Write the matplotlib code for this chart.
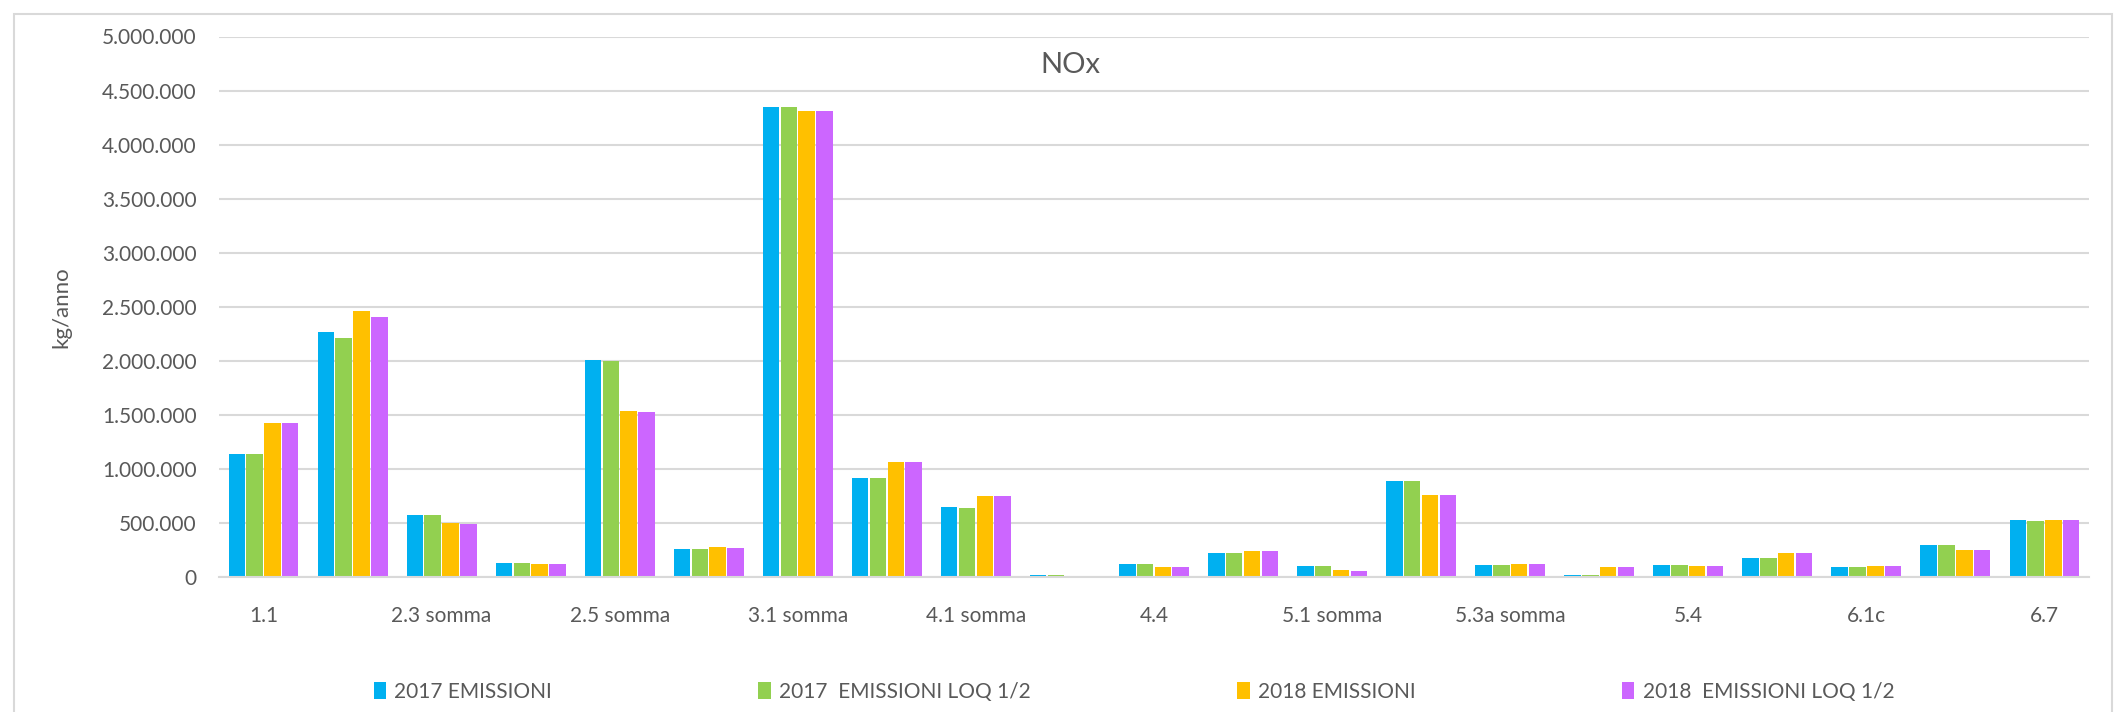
import matplotlib.pyplot as plt
import matplotlib.patches as patches
from matplotlib.ticker import FuncFormatter, MultipleLocator
import numpy as np

plt.rcParams['font.family'] = ['Lato', 'DejaVu Sans']

# categories (only every other one is labelled in the chart)
categories = ["1.1", "2.1", "2.3 somma", "2.4", "2.5 somma", "2.6", "3.1 somma",
              "3.2", "4.1 somma", "4.2", "4.4", "4.5", "5.1 somma", "5.2",
              "5.3a somma", "5.3b", "5.4", "6.1b", "6.1c", "6.4", "6.7"]

em_2017 = [1134000, 2268000, 578000, 132000, 2008000, 260000, 4345000,
           918000, 644000, 18000, 121000, 223000, 102000, 889000,
           113000, 22000, 113000, 179000, 88000, 300000, 530000]
loq_2017 = [1134000, 2213000, 574000, 132000, 2001000, 256000, 4345000,
            918000, 640000, 18000, 121000, 223000, 102000, 889000,
            113000, 22000, 113000, 176000, 88000, 300000, 519000]
em_2018 = [1427000, 2465000, 501000, 121000, 1536000, 274000, 4312000,
           1064000, 753000, 0, 88000, 245000, 62000, 757000,
           124000, 95000, 99000, 219000, 106000, 252000, 530000]
loq_2018 = [1427000, 2407000, 494000, 121000, 1529000, 271000, 4312000,
            1064000, 750000, 0, 88000, 245000, 59000, 757000,
            124000, 95000, 99000, 219000, 106000, 252000, 530000]

series = ["2017 EMISSIONI", "2017  EMISSIONI LOQ 1/2", "2018 EMISSIONI", "2018  EMISSIONI LOQ 1/2"]
colors = ["#00B0F0", "#92D050", "#FFC000", "#CC66FF"]

W, H = 2120, 712
fig = plt.figure(figsize=(W / 100, H / 100), dpi=100)
ax = fig.add_axes([219 / W, 1 - 577 / H, (2089 - 219) / W, (577 - 36.5) / H])

x = np.arange(len(categories))
step = 0.2
bw = 0.185
for i, (vals, name, c) in enumerate(zip([em_2017, loq_2017, em_2018, loq_2018], series, colors)):
    ax.bar(x + (i - 1.5) * step, vals, width=bw, color=c, label=name, zorder=3)

ax.set_xlim(-0.5, len(categories) - 0.5)
ax.set_ylim(0, 5000000)
ax.yaxis.set_major_locator(MultipleLocator(500000))
ax.yaxis.set_major_formatter(FuncFormatter(lambda v, p: f"{int(v):,}".replace(",", ".")))
ax.grid(axis='y', color='#D9D9D9', linewidth=1.5, zorder=0)

ax.set_xticks(x[::2])
ax.set_xticklabels(categories[::2])

for s in ['top', 'right', 'left']:
    ax.spines[s].set_visible(False)
ax.spines['bottom'].set_color('#D9D9D9')
ax.spines['bottom'].set_linewidth(1.5)
ax.spines['bottom'].set_zorder(4)

ax.tick_params(axis='both', length=0, labelsize=15, colors='#595959')
ax.tick_params(axis='x', pad=21)
ax.tick_params(axis='y', pad=16)

ax.set_ylabel("kg/anno", fontsize=16, color='#595959')
ax.yaxis.set_label_coords((71 - 219) / (2089 - 219), 0.5)

fig.text(1070 / W, 1 - 65 / H, "NOx", ha='center', va='center', fontsize=21, color='#595959')

leg = fig.legend(loc='center', bbox_to_anchor=(1134 / W, 1 - 692 / H), ncol=4, frameon=False,
                 fontsize=15, handlelength=0.6, handleheight=0.9, handletextpad=0.4,
                 columnspacing=9.9, labelcolor='#595959')

fig.patches.append(patches.Rectangle((14 / W, -5 / H), (2112 - 14) / W, (698 + 5) / H,
                                     transform=fig.transFigure, fill=False,
                                     edgecolor='#D9D9D9', linewidth=1.5))

fig.savefig("out.png", dpi=100)
